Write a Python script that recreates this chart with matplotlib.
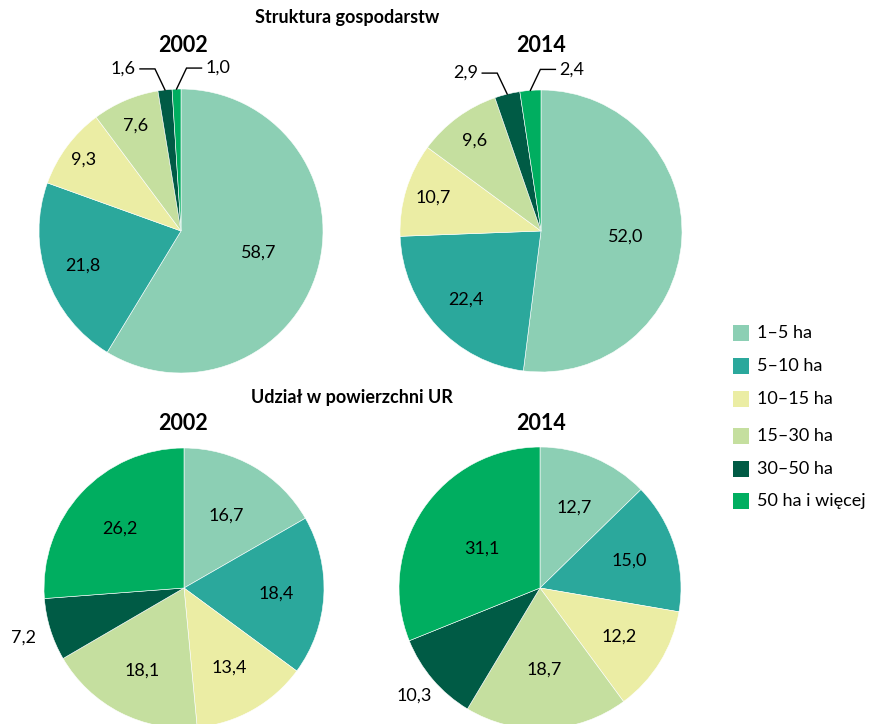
import numpy as np
import matplotlib
matplotlib.use("Agg")
import matplotlib.pyplot as plt
from matplotlib.patches import Rectangle

plt.rcParams['font.family'] = ['Lato', 'DejaVu Sans']

categories = ["1–5 ha", "5–10 ha", "10–15 ha", "15–30 ha", "30–50 ha", "50 ha i więcej"]
colors = ["#8ccfb4", "#2ba89c", "#ebeda4", "#c5df9f", "#005b45", "#00ae60"]

farms_2002 = [58.7, 21.8, 9.3, 7.6, 1.6, 1.0]
farms_2014 = [52.0, 22.4, 10.7, 9.6, 2.9, 2.4]
area_2002 = [16.7, 18.4, 13.4, 18.1, 7.2, 26.2]
area_2014 = [12.7, 15.0, 12.2, 18.7, 10.3, 31.1]

W, H = 870, 724
fig = plt.figure(figsize=(W / 100, H / 100), dpi=100)
ax = fig.add_axes([0, 0, 1, 1])
ax.set_xlim(0, W)
ax.set_ylim(0, H)
ax.set_aspect('equal')
ax.axis('off')

LBL = 13


def fmt(v):
    return f"{v:.1f}".replace('.', ',')


def draw_pie(values, cx, cy_px, r, label_fr, leaders):
    cy = H - cy_px
    ax.pie(values, colors=colors, startangle=90, counterclock=False,
           center=(cx, cy), radius=r, frame=True,
           wedgeprops=dict(edgecolor='white', linewidth=0.4))
    ax.set_xlim(0, W)
    ax.set_ylim(0, H)
    ax.axis('off')
    total = sum(values)
    cum = 0.0
    for i, v in enumerate(values):
        mid = (cum + v / 2) / total * 360.0
        cum += v
        ang = np.deg2rad(90 - mid)
        if i in leaders:
            d = leaders[i]
            ex, ey = cx + r * np.cos(ang), cy + r * np.sin(ang)
            elx, ely = ex + d * 10, ey + 21
            hx = elx + d * 15
            ax.plot([ex, elx, hx], [ey, ely, ely], color='black', lw=1.0,
                    solid_joinstyle='miter')
            ax.text(hx + d * 4, ely, fmt(v), ha='left' if d > 0 else 'right',
                    va='center', fontsize=LBL)
        else:
            fr = label_fr[i]
            ax.text(cx + fr * r * np.cos(ang), cy + fr * r * np.sin(ang), fmt(v),
                    ha='center', va='center', fontsize=LBL)


draw_pie(farms_2002, 181, 231, 142, [0.57, 0.73, 0.85, 0.81, 0, 0], {4: -1, 5: 1})
draw_pie(farms_2014, 541, 231, 141, [0.6, 0.72, 0.8, 0.8, 0, 0], {4: -1, 5: 1})
draw_pie(area_2002, 184, 588, 140, [0.6, 0.66, 0.65, 0.66, 1.2, 0.62], {})
draw_pie(area_2014, 540, 588, 141, [0.62, 0.66, 0.66, 0.58, 1.17, 0.5], {})

ax.text(347, H - 17, "Struktura gospodarstw", ha='center', va='center',
        fontsize=13, fontweight='bold')
ax.text(183, H - 46, "2002", ha='center', va='center', fontsize=15.5, fontweight='bold')
ax.text(541, H - 46, "2014", ha='center', va='center', fontsize=15.5, fontweight='bold')
ax.text(352, H - 398, "Udział w powierzchni UR", ha='center', va='center',
        fontsize=13, fontweight='bold')
ax.text(183, H - 424, "2002", ha='center', va='center', fontsize=15.5, fontweight='bold')
ax.text(541, H - 424, "2014", ha='center', va='center', fontsize=15.5, fontweight='bold')

leg_y = [333, 366, 399, 436, 469, 501]
for c, lab, y in zip(colors, categories, leg_y):
    ax.add_patch(Rectangle((733, H - y - 8), 16, 16, facecolor=c, edgecolor='none'))
    ax.text(757, H - y, lab, ha='left', va='center', fontsize=LBL)

fig.savefig("out.png", dpi=100)
